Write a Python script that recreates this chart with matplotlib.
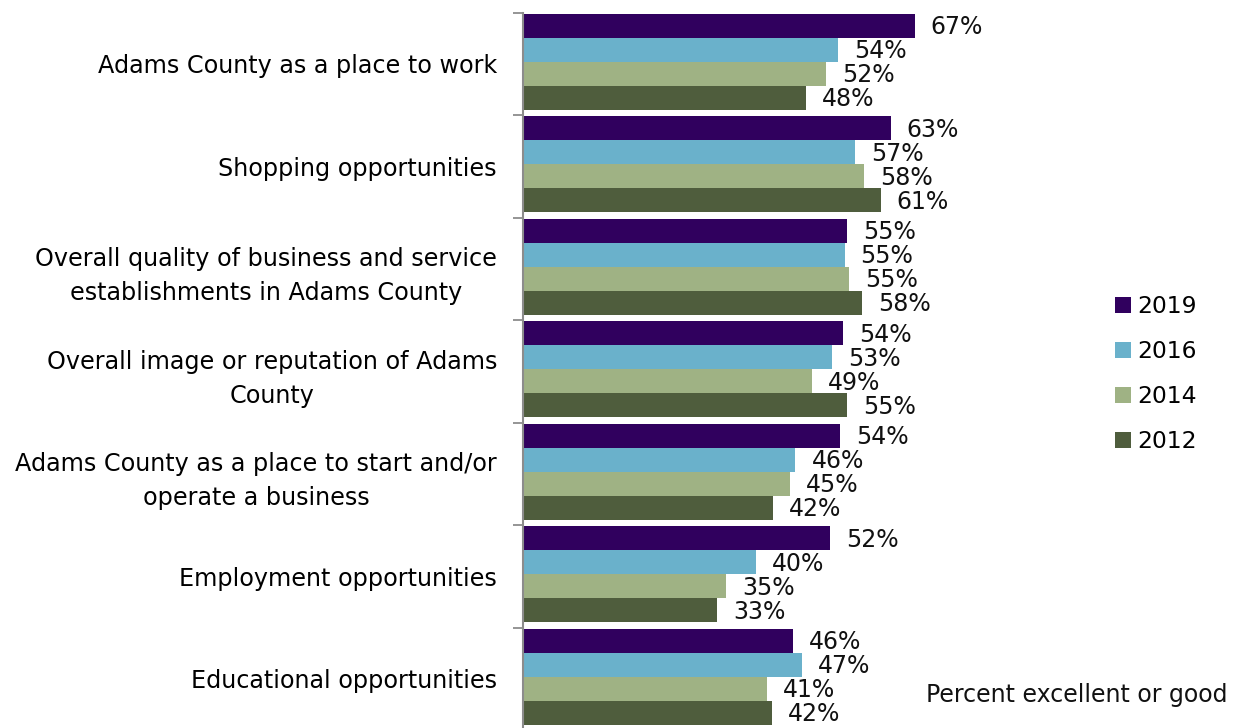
import matplotlib
matplotlib.use("Agg")
import matplotlib.pyplot as plt
from matplotlib.patches import Patch
import matplotlib.transforms as mtrans
import numpy as np

plt.rcParams['font.family'] = ['DejaVu Sans']

categories = [
    "Adams County as a place to work",
    "Shopping opportunities",
    "Overall quality of business and service\nestablishments in Adams County",
    "Overall image or reputation of Adams\nCounty",
    "Adams County as a place to start and/or\noperate a business",
    "Employment opportunities",
    "Educational opportunities",
]
series_names = ["2019", "2016", "2014", "2012"]
v2019 = [67.0, 62.9, 55.4, 54.7, 54.2, 52.5, 46.1]
v2016 = [53.9, 56.8, 55.0, 52.9, 46.6, 39.9, 47.7]
v2014 = [51.8, 58.4, 55.8, 49.4, 45.6, 34.8, 41.7]
v2012 = [48.4, 61.2, 58.0, 55.4, 42.7, 33.2, 42.6]
l2019 = ["67%", "63%", "55%", "54%", "54%", "52%", "46%"]
l2016 = ["54%", "57%", "55%", "53%", "46%", "40%", "47%"]
l2014 = ["52%", "58%", "55%", "49%", "45%", "35%", "41%"]
l2012 = ["48%", "61%", "58%", "55%", "42%", "33%", "42%"]
colors = ["#30005E", "#6AB1CB", "#9FB284", "#4F5D3D"]
axis_note = "Percent excellent or good"

W, H = 1239, 728
fig = plt.figure(figsize=(W / 100, H / 100), dpi=100)
left_px, top_px, bottom_px = 523, 12.7, 730.0
xmax = 100
px_per_unit = 5.846
ax_w = xmax * px_per_unit
ax = fig.add_axes([left_px / W, 1 - bottom_px / H, ax_w / W, (bottom_px - top_px) / H])

n = len(categories)
bar_h = 0.234
values = [v2019, v2016, v2014, v2012]
labels = [l2019, l2016, l2014, l2012]
y_centers = np.arange(n)
for s, (vals, labs, col, name) in enumerate(zip(values, labels, colors, series_names)):
    ys = y_centers - 1.5 * bar_h + s * bar_h - 0.02
    ax.barh(ys, vals, height=bar_h, color=col, edgecolor='none', label=name)
    for y, v, lab in zip(ys, vals, labs):
        ax.annotate(lab, xy=(v, y), xytext=(16, -1.5), textcoords='offset pixels',
                    ha='left', va='center', fontsize=17, color='#111111')

ax.set_xlim(0, xmax)
ax.set_ylim(n - 0.5, -0.5)
ax.set_yticks(y_centers)
ax.set_yticklabels(categories, fontsize=17.2, ha='center', linespacing=1.52)
ax.tick_params(axis='y', which='major', length=0, pad=0)
ax.set_yticks(np.arange(n + 1) - 0.5, minor=True)
ax.tick_params(axis='y', which='minor', length=7.2, width=1.3, color='#8C8C8C')
ax.set_xticks([])
for sp in ['top', 'right', 'bottom']:
    ax.spines[sp].set_visible(False)
ax.spines['left'].set_color('#8C8C8C')
ax.spines['left'].set_linewidth(1.5)

fig.canvas.draw()
renderer = fig.canvas.get_renderer()
# shift centered labels so right edge sits at x=497 px
for lbl in ax.get_yticklabels():
    bb = lbl.get_window_extent(renderer)
    w = bb.width
    lbl.set_transform(lbl.get_transform() + mtrans.Affine2D().translate(-(left_px - 497) - w / 2, 0))

handles = [Patch(facecolor=c, edgecolor='none') for c in colors]
fig.legend(handles, series_names, loc='center left',
           bbox_to_anchor=(1103 / W, 1 - 374 / H), frameon=False,
           fontsize=16.8, handlelength=0.68, handleheight=0.68, handletextpad=0.3,
           labelspacing=0.95, borderpad=0)

fig.text(1228 / W, 1 - 695 / H, axis_note, ha='right', va='center', fontsize=17, color='#111111')

fig.savefig("out.png", dpi=100)
